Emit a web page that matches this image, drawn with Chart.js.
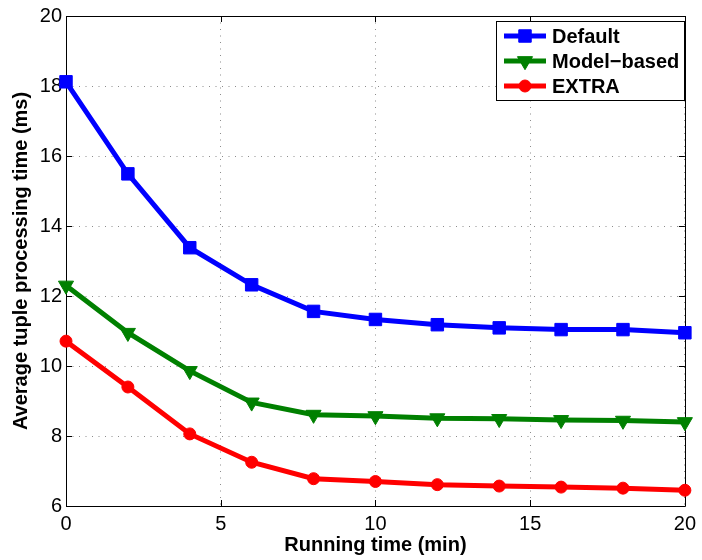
<!DOCTYPE html>
<html><head><meta charset="utf-8">
<script src="https://cdn.jsdelivr.net/npm/chart.js@4.4.1/dist/chart.umd.min.js"></script>
<style>html,body{margin:0;padding:0;background:#fff}#wrap{width:702px;height:560px}canvas{display:block}</style>
</head><body><div id="wrap"><canvas id="c" width="702" height="560" style="width:702px;height:560px"></canvas></div>
<script>
const times = [0, 2, 4, 6, 8, 10, 12, 14, 16, 18, 20];
const defaultVals = [18.12, 15.49, 13.38, 12.32, 11.56, 11.33, 11.18, 11.09, 11.04, 11.04, 10.95];
const modelVals = [12.30, 10.95, 9.86, 8.96, 8.61, 8.57, 8.51, 8.49, 8.46, 8.44, 8.40];
const extraVals = [10.71, 9.40, 8.06, 7.25, 6.78, 6.70, 6.61, 6.57, 6.54, 6.51, 6.45];
const seriesNames = ['Default', 'Model\u2212based', 'EXTRA'];
const xTicks = [0, 5, 10, 15, 20];
const yTicks = [6, 8, 10, 12, 14, 16, 18, 20];
const xTitle = 'Running time (min)';
const yTitle = 'Average tuple processing time (ms)';

const FONT = '"Liberation Sans", Arial, Helvetica, sans-serif';
const toXY = vals => vals.map((v, i) => ({x: times[i], y: v}));

function mk(label, vals, color, style, radius, rot) {
  return {
    label, data: toXY(vals), borderColor: color, backgroundColor: color,
    borderWidth: 5, pointStyle: style, pointRadius: radius, pointHoverRadius: radius,
    pointBackgroundColor: color, pointBorderColor: color, pointBorderWidth: 1,
    pointRotation: rot, tension: 0, clip: false
  };
}

function drawMarker(ctx, style, x, y, r, rot) {
  ctx.beginPath();
  if (style === 'rect') {
    const s = Math.SQRT1_2 * r;
    ctx.rect(x - s, y - s, 2 * s, 2 * s);
  } else if (style === 'triangle') {
    let a = rot * Math.PI / 180;
    ctx.moveTo(x + Math.sin(a) * r, y - Math.cos(a) * r);
    a += 2 * Math.PI / 3;
    ctx.lineTo(x + Math.sin(a) * r, y - Math.cos(a) * r);
    a += 2 * Math.PI / 3;
    ctx.lineTo(x + Math.sin(a) * r, y - Math.cos(a) * r);
    ctx.closePath();
  } else {
    ctx.arc(x, y, r, 0, Math.PI * 2);
  }
  ctx.fill();
  ctx.stroke();
}

const framePlugin = {
  id: 'frame',
  beforeDatasetsDraw(chart) {
    const {ctx, chartArea: a, scales} = chart;
    ctx.save();
    ctx.strokeStyle = '#000';
    ctx.lineWidth = 1;
    ctx.beginPath();
    const tl = 6;
    xTicks.forEach(v => {
      const px = Math.round(scales.x.getPixelForValue(v)) + 0.5;
      ctx.moveTo(px, a.bottom); ctx.lineTo(px, a.bottom - tl);
      ctx.moveTo(px, a.top); ctx.lineTo(px, a.top + tl);
    });
    yTicks.forEach(v => {
      const py = Math.round(scales.y.getPixelForValue(v)) + 0.5;
      ctx.moveTo(a.left, py); ctx.lineTo(a.left + tl, py);
      ctx.moveTo(a.right, py); ctx.lineTo(a.right - tl, py);
    });
    ctx.stroke();
    ctx.beginPath();
    ctx.rect(Math.round(a.left) + 0.5, Math.round(a.top) + 0.5,
             Math.round(a.right - a.left), Math.round(a.bottom - a.top));
    ctx.stroke();
    ctx.restore();
  },
  afterDraw(chart) {
    const {ctx} = chart;
    const ds = chart.data.datasets;
    const bx = 496, by = 21, bw = 188, bh = 79;
    ctx.save();
    ctx.fillStyle = '#fff';
    ctx.fillRect(bx, by, bw, bh);
    ctx.strokeStyle = '#000';
    ctx.lineWidth = 1;
    ctx.strokeRect(bx + 0.5, by + 0.5, bw, bh);
    ctx.font = 'bold 20px ' + FONT;
    ctx.textBaseline = 'middle';
    ctx.textAlign = 'left';
    ds.forEach((d, i) => {
      const cy = by + 15 + i * 25;
      ctx.strokeStyle = d.borderColor;
      ctx.lineWidth = d.borderWidth;
      ctx.beginPath();
      ctx.moveTo(bx + 8, cy); ctx.lineTo(bx + 50, cy);
      ctx.stroke();
      ctx.fillStyle = d.pointBackgroundColor;
      ctx.strokeStyle = d.pointBorderColor;
      ctx.lineWidth = d.pointBorderWidth;
      drawMarker(ctx, d.pointStyle, bx + 29, cy, d.pointRadius, d.pointRotation);
      ctx.fillStyle = '#000';
      ctx.fillText(d.label, bx + 56, cy + 1);
    });
    ctx.restore();
  }
};

new Chart(document.getElementById('c'), {
  type: 'line',
  data: {
    datasets: [
      mk(seriesNames[0], defaultVals, '#0000ff', 'rect', 8.8, 0),
      mk(seriesNames[1], modelVals, '#008000', 'triangle', 8.7, 180),
      mk(seriesNames[2], extraVals, '#ff0000', 'circle', 6, 0)
    ]
  },
  options: {
    responsive: false,
    animation: false,
    devicePixelRatio: 1,
    layout: {padding: {top: 13, right: 10, left: 0, bottom: 0}},
    plugins: {legend: {display: false}, tooltip: {enabled: false}},
    events: [],
    scales: {
      x: {
        type: 'linear', min: 0, max: 20,
        afterFit(s) { s.height = 54; },
        afterBuildTicks(s) { s.ticks = xTicks.map(v => ({value: v})); },
        grid: {color: '#8c8c8c', lineWidth: 1, drawTicks: false},
        border: {display: false, dash: [1, 5.5]},
        ticks: {color: '#000', padding: 6, font: {family: FONT, size: 20}, maxRotation: 0},
        title: {display: true, text: xTitle, color: '#000', padding: {top: 3, bottom: 3},
                font: {family: FONT, size: 20, weight: 'bold'}}
      },
      y: {
        type: 'linear', min: 6, max: 20,
        afterFit(s) { s.width = 66; },
        afterBuildTicks(s) { s.ticks = yTicks.map(v => ({value: v})); },
        grid: {color: '#8c8c8c', lineWidth: 1, drawTicks: false},
        border: {display: false, dash: [1, 5.5]},
        ticks: {color: '#000', padding: 4, font: {family: FONT, size: 20}},
        title: {display: true, text: yTitle, color: '#000', padding: {top: 9, bottom: 9},
                font: {family: FONT, size: 20, weight: 'bold'}}
      }
    }
  },
  plugins: [framePlugin]
});
</script>
</body></html>
